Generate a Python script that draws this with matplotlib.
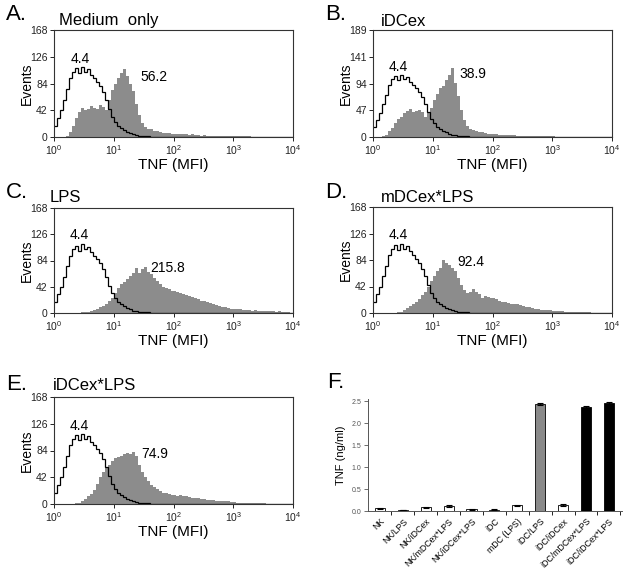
import numpy as np
import matplotlib
matplotlib.use("Agg")
import matplotlib.pyplot as plt
from matplotlib.ticker import FixedLocator, NullFormatter

plt.rcParams['font.family'] = ['Liberation Sans', 'DejaVu Sans']
plt.rcParams['mathtext.fontset'] = 'custom'
plt.rcParams['mathtext.rm'] = 'Liberation Sans'
plt.rcParams['mathtext.it'] = 'Liberation Sans:italic'
plt.rcParams['mathtext.bf'] = 'Liberation Sans:bold'

# ---------------- data ----------------
# histogram channels: 20 bins per decade over 10^0 .. 10^4
n_bins = 80
edges = 10 ** np.linspace(0, 4, n_bins + 1)

control = [18, 30, 42, 58, 75, 92, 102, 108, 100, 110,
           102, 106, 98, 92, 86, 80, 70, 58, 44, 32,
           24, 18, 14, 11, 8, 6, 4, 3, 2, 1,
           1, 1, 0.5, 0.5] + [0] * 46

medium_only = [0, 0, 0, 0, 2, 8, 18, 30, 40, 46,
               42, 44, 48, 46, 44, 50, 47, 42, 58, 74,
               84, 92, 100, 106, 96, 84, 72, 52, 34, 22,
               16, 13, 12, 10, 9, 8, 7, 6, 6, 5,
               5, 4, 5, 4, 4, 3, 4, 3, 3, 2,
               3, 2, 2, 2, 1.5, 1.5, 1, 1, 1, 1,
               1, 1, 1, 1, 1, 1, 0.5, 0.5, 0.5, 0.5,
               0.5, 0.5, 0.5, 0.5, 0.5, 0.5, 0.5, 0.5, 0.5, 0.5]

idcex = [0, 0, 0, 1, 4, 10, 16, 24, 32, 36,
         42, 46, 50, 44, 46, 48, 44, 36, 42, 52,
         66, 76, 86, 90, 100, 110, 122, 96, 72, 48,
         30, 20, 15, 12, 10, 9, 8, 7, 6, 6,
         5, 5, 4, 4, 4, 3, 3, 3, 2, 2,
         2, 2, 1.5, 1, 1, 1, 1, 1, 1, 1,
         1, 0.5, 0.5, 0.5, 0.5, 0.5, 0.5, 0.5, 0.5, 0.5,
         0.5, 0.5, 0.5, 0.5, 0.5, 0.5, 0.5, 0.5, 0.5, 0.5]

lps = [0, 0, 0, 0, 0, 0, 0, 0, 0, 1,
       1, 2, 3, 5, 7, 9, 12, 15, 19, 24,
       32, 40, 46, 50, 54, 60, 64, 72, 64, 70,
       74, 66, 62, 56, 52, 46, 42, 40, 38, 36,
       36, 34, 32, 30, 29, 28, 26, 24, 22, 20,
       19, 18, 16, 15, 13, 12, 10, 9, 8, 7,
       7, 6, 6, 5, 5, 5, 4, 5, 4, 3,
       3, 3, 3, 3, 2, 3, 2, 2, 1, 0.5]

mdcex_lps = [0, 0, 0, 0, 0, 0, 0, 0, 1, 2,
             5, 8, 11, 14, 18, 22, 28, 34, 42, 50,
             58, 66, 72, 84, 80, 76, 72, 66, 56, 44,
             36, 32, 34, 38, 34, 30, 24, 27, 25, 23,
             24, 22, 19, 18, 17, 16, 15, 15, 14, 12,
             11, 10, 9, 8, 7, 6, 5, 5, 4, 4,
             3, 3, 3, 3, 2, 2, 2, 1.5, 1.5, 1,
             1, 1, 1, 0.5, 0.5, 0.5, 0.5, 0.5, 0.5, 0.5]

idcex_lps = [0, 0, 0, 0, 0, 0, 0, 1, 2, 4,
             8, 12, 16, 22, 32, 42, 50, 56, 62, 68,
             72, 74, 76, 78, 80, 79, 82, 76, 62, 50,
             42, 36, 30, 26, 23, 20, 18, 17, 16, 14,
             14, 13, 14, 12, 12, 11, 10, 9, 9, 8,
             8, 7, 7, 6, 5, 5, 4, 4, 4, 3,
             3, 2, 2, 2, 2, 1.5, 1, 1, 1, 1,
             1, 0.5, 0.5, 0.5, 0.5, 0.5, 0.5, 0.5, 0.5, 0.5]

ctrl_mfi = "4.4"
panel_letters = ["A.", "B.", "C.", "D.", "E."]
panel_titles = ["Medium  only", "iDCex", "LPS", "mDCex*LPS", "iDCex*LPS"]
panel_mfi = ["56.2", "38.9", "215.8", "92.4", "74.9"]
panel_series = [medium_only, idcex, lps, mdcex_lps, idcex_lps]
panel_yticks = [[0, 42, 84, 126, 168], [0, 47, 94, 141, 189],
                [0, 42, 84, 126, 168], [0, 42, 84, 126, 168],
                [0, 42, 84, 126, 168]]
x_ticks = [1, 10, 100, 1000, 10000]
x_ticklabels = [r"$10^{0}$", r"$10^{1}$", r"$10^{2}$", r"$10^{3}$", r"$10^{4}$"]

# bar chart (panel F)
f_categories = ["NK", "NK/LPS", "NK/iDCex", "NK/mDCex*LPS", "NK/iDCex*LPS",
                "iDC", "mDC (LPS)", "iDC/LPS", "iDC/iDCex", "iDC/mDCex*LPS",
                "iDC/iDCex*LPS"]
f_values = [0.06, 0.02, 0.08, 0.12, 0.04, 0.03, 0.13, 2.44, 0.14, 2.36, 2.46]
f_errors = [0.005, 0.005, 0.005, 0.02, 0.01, 0.005, 0.005, 0.02, 0.02, 0.02, 0.02]
f_colors = ["white"] * 7 + ["#8a8a8a", "white", "black", "black"]
f_yticks = [0.0, 0.5, 1.0, 1.5, 2.0, 2.5]

# ---------------- layout (pixels, from top-left) ----------------
W, H = 629, 575
fig = plt.figure(figsize=(W / 100, H / 100), dpi=100)


def px_axes(left, top, right, bottom):
    return fig.add_axes([left / W, 1 - bottom / H, (right - left) / W, (bottom - top) / H])


hist_boxes = [(54, 30, 293, 137), (373, 30, 612, 137),
              (54, 208, 293, 313), (373, 207, 612, 313),
              (54, 397, 293, 504)]
letter_pos = [(6, 15), (325, 15), (6, 193), (325, 193), (6, 385)]
title_pos = [(109, 20), (404, 21), (65, 197), (428, 197), (94, 386)]
ctrl_label_pos = [(2.8, 122), (2.6, 123), (2.6, 125), (2.6, 124), (2.6, 122)]
mfi_label_pos = [(48, 94), (47, 111), (81, 72), (44, 81), (49, 78)]

fill_col = "#8c8c8c"
spine_col = "#333333"

for i in range(5):
    ax = px_axes(*hist_boxes[i])
    ax.stairs(panel_series[i], edges, fill=True, color=fill_col, lw=0)
    ax.stairs(control, edges, color="black", lw=0.9, baseline=None)
    ax.set_xscale("log")
    ax.set_xlim(1, 10000)
    ax.set_ylim(0, panel_yticks[i][-1])
    ax.set_xticks(x_ticks)
    ax.set_xticklabels(x_ticklabels)
    ax.xaxis.set_minor_locator(FixedLocator([]))
    ax.xaxis.set_minor_formatter(NullFormatter())
    ax.set_yticks(panel_yticks[i])
    ax.tick_params(axis="both", direction="out", length=3, width=0.7,
                   labelsize=7.5, colors="#222222", pad=1.5)
    for s in ax.spines.values():
        s.set_color(spine_col)
        s.set_linewidth(0.8)
    ax.set_ylabel("Events", fontsize=10)
    ax.yaxis.set_label_coords(-0.085, 0.5)
    ax.set_xlabel("TNF (MFI)", fontsize=11, labelpad=1)
    ax.text(*ctrl_label_pos[i], ctrl_mfi, fontsize=10, ha="center", va="center")
    ax.text(*mfi_label_pos[i], panel_mfi[i], fontsize=10, ha="center", va="center")
    fig.text(letter_pos[i][0] / W, 1 - letter_pos[i][1] / H, panel_letters[i],
             fontsize=16, ha="left", va="center")
    fig.text(title_pos[i][0] / W, 1 - title_pos[i][1] / H, panel_titles[i],
             fontsize=12, ha="center", va="center")

# ---------------- panel F ----------------
axf = px_axes(368, 399, 622, 511)
xpos = np.arange(len(f_categories))
axf.bar(xpos, f_values, width=0.44, color=f_colors, edgecolor="black", lw=0.6,
        yerr=f_errors, error_kw=dict(ecolor="black", elinewidth=0.8, capsize=2, capthick=0.8))
axf.set_xlim(-0.52, len(f_categories) - 0.43)
axf.set_ylim(0, 2.55)
axf.set_yticks(f_yticks)
axf.set_yticklabels([f"{v:.1f}" for v in f_yticks])
axf.set_xticks(xpos)
axf.set_xticklabels(f_categories, rotation=45, ha="right", rotation_mode="anchor", fontsize=6.3)
axf.set_xticks(np.arange(len(f_categories)) + 0.5, minor=True)
axf.tick_params(axis="x", which="major", length=0, pad=4)
axf.tick_params(axis="x", which="minor", length=3, width=0.6, direction="out")
axf.tick_params(axis="y", labelsize=5, length=3, width=0.6, direction="out", colors="#555555", pad=2)
axf.spines["top"].set_visible(False)
axf.spines["right"].set_visible(False)
for s in ("left", "bottom"):
    axf.spines[s].set_color("#555555")
    axf.spines[s].set_linewidth(0.7)
axf.set_ylabel("TNF (ng/ml)", fontsize=8, labelpad=4)
fig.text(327 / W, 1 - 383 / H, "F.", fontsize=16, ha="left", va="center")

fig.savefig("out.png", dpi=100)
